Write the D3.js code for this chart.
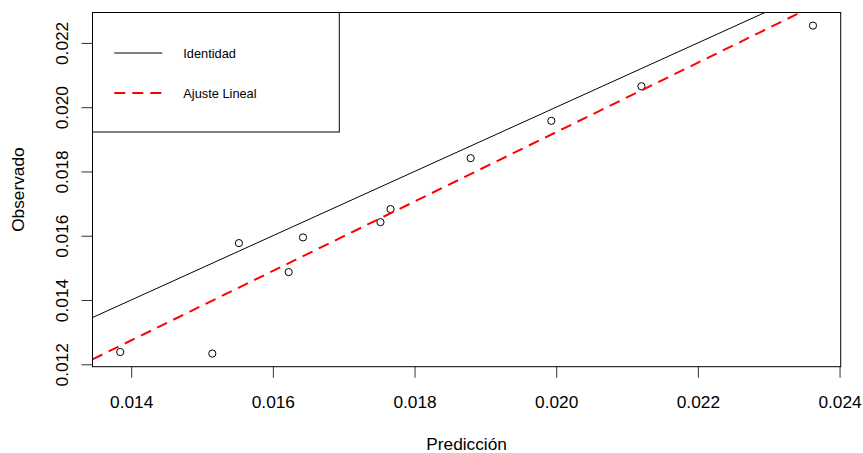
<!DOCTYPE html>
<html>
<head>
<meta charset="utf-8">
<script src="https://cdn.jsdelivr.net/npm/d3@7"></script>
<style>
  html, body { margin: 0; padding: 0; background: #fff; }
  svg { display: block; font-family: "Liberation Sans", Arial, sans-serif; }
</style>
</head>
<body>
<svg id="chart" width="863" height="453"></svg>
<script>
// Predicted vs observed values
const prediccion = [0.013845, 0.015145, 0.015521, 0.016223, 0.016425, 0.017519, 0.017661, 0.018792, 0.019931, 0.021203, 0.023625];
const observado  = [0.012382, 0.012333, 0.015771, 0.014869, 0.015948, 0.016423, 0.016828, 0.018413, 0.019575, 0.020651, 0.022538];

// Linear fit coefficients (observado ~ prediccion)
const ajusteIntercepto = -0.002376;
const ajustePendiente = 1.080;

const xTicks = [0.014, 0.016, 0.018, 0.020, 0.022, 0.024];
const yTicks = [0.012, 0.014, 0.016, 0.018, 0.020, 0.022];
const legendLabels = ["Identidad", "Ajuste Lineal"];

const W = 863, H = 453;
const plot = { left: 92.5, top: 12.5, right: 840.7, bottom: 366.7 };

// R-style 4% padding around the data range
function padded(arr) {
  const [lo, hi] = d3.extent(arr);
  const d = (hi - lo) * 0.04;
  return [lo - d, hi + d];
}

const x = d3.scaleLinear().domain(padded(prediccion)).range([plot.left, plot.right]);
const y = d3.scaleLinear().domain(padded(observado)).range([plot.bottom, plot.top]);

const svg = d3.select("#chart");

svg.append("defs").append("clipPath").attr("id", "plotClip")
  .append("rect")
  .attr("x", plot.left).attr("y", plot.top)
  .attr("width", plot.right - plot.left).attr("height", plot.bottom - plot.top);

// Points
svg.append("g")
  .selectAll("circle")
  .data(prediccion.map((p, i) => [p, observado[i]]))
  .join("circle")
  .attr("cx", d => x(d[0]))
  .attr("cy", d => y(d[1]))
  .attr("r", 3.6)
  .attr("fill", "none")
  .attr("stroke", "#000")
  .attr("stroke-width", 1);

// Reference lines
const [x0, x1] = x.domain();
const lines = svg.append("g").attr("clip-path", "url(#plotClip)");

lines.append("line")
  .attr("x1", x(x0)).attr("y1", y(x0))
  .attr("x2", x(x1)).attr("y2", y(x1))
  .attr("stroke", "#000").attr("stroke-width", 1);

lines.append("line")
  .attr("x1", x(x0)).attr("y1", y(ajusteIntercepto + ajustePendiente * x0))
  .attr("x2", x(x1)).attr("y2", y(ajusteIntercepto + ajustePendiente * x1))
  .attr("stroke", "#ff0000").attr("stroke-width", 2)
  .attr("stroke-dasharray", "11,7");

// Axes
const fmt = d3.format(".3f");
const fontSize = 17.3;

const xAxis = svg.append("g")
  .attr("transform", `translate(0,${plot.bottom})`)
  .call(d3.axisBottom(x).tickValues(xTicks).tickFormat(fmt).tickSize(11).tickSizeOuter(0));
xAxis.select(".domain").remove();
xAxis.selectAll(".tick line").attr("stroke", "#333");
xAxis.selectAll(".tick text")
  .attr("y", 41).attr("dy", null)
  .attr("font-size", fontSize).attr("font-family", "Liberation Sans, Arial, sans-serif")
  .attr("fill", "#000");

const yAxis = svg.append("g")
  .attr("transform", `translate(${plot.left},0)`)
  .call(d3.axisLeft(y).tickValues(yTicks).tickFormat(fmt).tickSize(11).tickSizeOuter(0));
yAxis.select(".domain").remove();
yAxis.selectAll(".tick line").attr("stroke", "#333");
yAxis.selectAll(".tick text")
  .attr("transform", "rotate(-90)")
  .attr("x", 0).attr("y", -24.5).attr("dy", null)
  .attr("text-anchor", "middle")
  .attr("font-size", fontSize).attr("font-family", "Liberation Sans, Arial, sans-serif")
  .attr("fill", "#000");

// Plot frame
svg.append("rect")
  .attr("x", plot.left).attr("y", plot.top)
  .attr("width", plot.right - plot.left).attr("height", plot.bottom - plot.top)
  .attr("fill", "none").attr("stroke", "#000").attr("stroke-width", 1);

// Axis titles
svg.append("text")
  .attr("x", (plot.left + plot.right) / 2).attr("y", 450)
  .attr("text-anchor", "middle").attr("font-size", fontSize)
  .text("Predicción");

svg.append("text")
  .attr("transform", `translate(23.5,${(plot.top + plot.bottom) / 2}) rotate(-90)`)
  .attr("text-anchor", "middle").attr("font-size", fontSize)
  .text("Observado");

// Legend
const legend = svg.append("g");
legend.append("rect")
  .attr("x", plot.left).attr("y", plot.top)
  .attr("width", 339.3 - plot.left).attr("height", 132 - plot.top)
  .attr("fill", "#fff").attr("stroke", "#000").attr("stroke-width", 1);

const legendStyles = [
  { color: "#000", width: 1, dash: null },
  { color: "#ff0000", width: 2, dash: "11,7" }
];
const legendY = [53, 93];

legendLabels.forEach((lab, i) => {
  legend.append("line")
    .attr("x1", 114.3).attr("x2", 162.3)
    .attr("y1", legendY[i]).attr("y2", legendY[i])
    .attr("stroke", legendStyles[i].color)
    .attr("stroke-width", legendStyles[i].width)
    .attr("stroke-dasharray", legendStyles[i].dash);
  legend.append("text")
    .attr("x", 183.3).attr("y", legendY[i] + 4.8)
    .attr("font-size", 12.8)
    .text(lab);
});
</script>
</body>
</html>
